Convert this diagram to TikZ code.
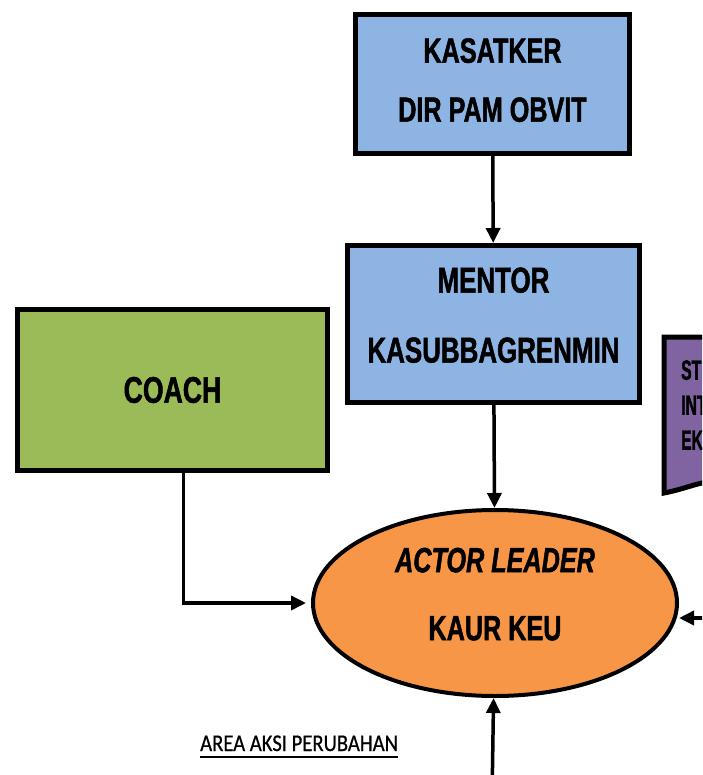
\documentclass[tikz,border=0pt]{standalone}
\usepackage{fontspec}
\setmainfont{Liberation Sans}[FakeStretch=0.72, BoldFeatures={FakeBold=1.3}, BoldItalicFeatures={FakeBold=1.3}]
\newfontfamily\stakefont{Liberation Sans}[FakeStretch=0.56, BoldFeatures={FakeBold=1.3}]
\newfontfamily\areafont{Carlito}[FakeStretch=0.86, FakeBold=0.6]
\usetikzlibrary{shapes.geometric,arrows.meta}
\definecolor{BoxBlue}{HTML}{8EB4E3}
\definecolor{BoxGreen}{HTML}{9BBB59}
\definecolor{LeaderOrange}{HTML}{F79646}
\definecolor{StakePurple}{HTML}{8064A2}

\begin{document}
\begin{tikzpicture}[
        x=1pt, y=-1pt,
        box/.style={draw, line width=5pt, align=center, inner sep=0pt},
        flow/.style={->, line width=3.5pt},
        >={Triangle[length=15pt,width=14pt]}
    ]
        \useasboundingbox (0,0) rectangle (702,775);
        \clip (0,0) rectangle (702,775);
        \node[box, fill=BoxBlue, minimum width=274pt, minimum height=139pt, text depth=8pt,
            font=\bfseries\fontsize{35}{59}\selectfont] (kasatker) at (492.5,84) {KASATKER\\DIR PAM OBVIT};
        \node[box, fill=BoxBlue, minimum width=292pt, minimum height=157pt, text depth=18pt,
            font=\bfseries\fontsize{36}{70}\selectfont] (mentor) at (493.5,324) {MENTOR\\KASUBBAGRENMIN};
        \node[box, fill=BoxGreen, minimum width=310pt, minimum height=161pt,
            font=\bfseries\fontsize{37}{42}\selectfont] (coach) at (172.5,390) {COACH};
        \node[draw, ellipse, line width=4pt, fill=LeaderOrange, inner sep=0pt, align=center,
            minimum width=364pt, minimum height=186pt, text depth=18pt,
            font=\bfseries\fontsize{35}{68}\selectfont] (leader) at (495,603) {\textit{ACTOR LEADER}\\KAUR KEU};
        % stakeholder box, cut at the right edge
        \draw[line width=5pt, fill=StakePurple] (664,337) -- (730,337) -- (730,480)
            .. controls (700,480) and (690,488) .. (664,493) -- cycle;
        \node[anchor=west, align=left, inner sep=0pt, font=\stakefont\bfseries\fontsize{28}{35}\selectfont] (stake) at (681,405) {ST\\INT\\EK};
        \coordinate (stakeOut) at (730,618);
        \coordinate (bottomIn) at (492,800);
        \node[anchor=base west, inner sep=0pt, font=\areafont\fontsize{24}{28}\selectfont] (area) at (200,751) {AREA AKSI PERUBAHAN};
        \draw[line width=2pt] ([yshift=-6pt]area.base west) -- ([yshift=-6pt]area.base east);
        \draw[flow] (kasatker) -- (mentor);
        \draw[flow] (mentor) -- (leader);
        \draw[flow, shorten >=5pt] ([xshift=11pt]coach.south) |- (leader);
        \draw[flow] (stakeOut) -- (stakeOut -| leader.east);
        \draw[flow] (bottomIn) -- (leader);
    \end{tikzpicture}
\end{document}
